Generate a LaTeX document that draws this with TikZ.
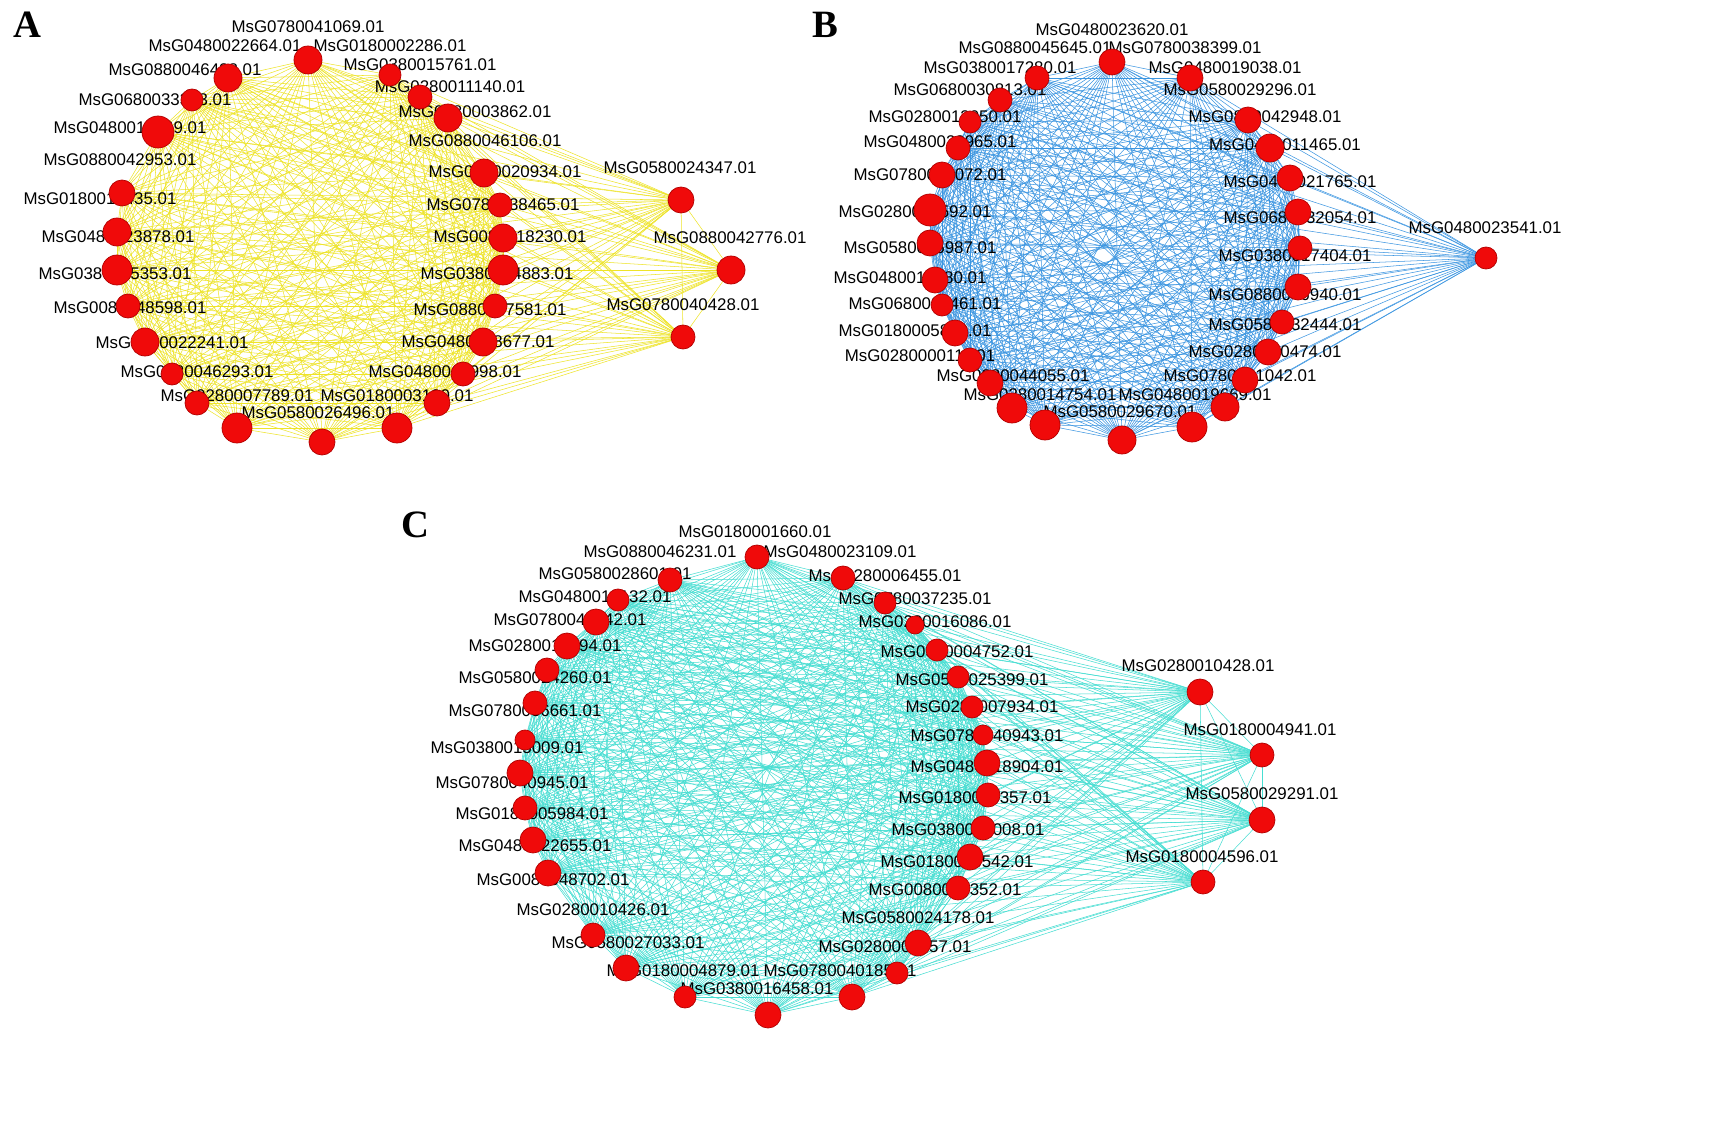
\documentclass[tikz,border=0pt]{standalone}
\usepackage{fontspec}
\setmainfont{Liberation Sans}
\newfontfamily\panelfont{Liberation Serif}
\definecolor{edgeA}{RGB}{238,228,40}
\definecolor{edgeB}{RGB}{60,150,225}
\definecolor{edgeC}{RGB}{70,222,210}
\definecolor{genered}{RGB}{240,10,10}
\tikzset{
  gene/.style={circle, draw=red!70!black, line width=0.2pt, fill=genered, inner sep=0pt},
  glabel/.style={font=\fontsize{4.8}{5}\selectfont, inner sep=0pt},
  panel/.style={font=\panelfont\bfseries\fontsize{11}{12}\selectfont}
}
% node lists: x/y/r in pixels
\def\nodesA{308/60/14,228/78/14,390/75/11,420/97/12,192/100/11,448/118/14,158/132/16,484/173/14,122/193/13,500/205/12,117/232/14,503/238/14,117/270/15,503/270/15,128/306/12,495/306/12,145/342/14,483/342/14,172/374/11,463/374/12,197/403/12,437/403/13,237/428/15,397/428/15,322/442/13,681/200/13,731/270/14,683/337/12}
\def\labelsA{308/27/MsG0780041069.01,225/46/MsG0480022664.01,390/46/MsG0180002286.01,420/65/MsG0380015761.01,185/70/MsG0880046428.01,450/87/MsG0280011140.01,155/100/MsG0680033363.01,475/112/MsG0380003862.01,130/128/MsG0480016669.01,485/141/MsG0880046106.01,120/160/MsG0880042953.01,505/172/MsG0480020934.01,100/199/MsG0180013435.01,503/205/MsG0780038465.01,118/237/MsG0480023878.01,510/237/MsG0080018230.01,115/274/MsG0380015353.01,497/274/MsG0380014883.01,130/308/MsG0080048598.01,490/310/MsG0880047581.01,172/343/MsG0480022241.01,478/342/MsG0480018677.01,197/372/MsG0880046293.01,445/372/MsG0480015998.01,237/396/MsG0280007789.01,397/396/MsG0180003180.01,318/413/MsG0580026496.01,680/168/MsG0580024347.01,730/238/MsG0880042776.01,683/305/MsG0780040428.01}
\def\nodesB{1112/62/13,1037/78/12,1190/78/13,1000/100/12,970/122/11,1248/120/13,958/148/12,1270/148/14,942/175/13,1290/178/13,930/210/16,1298/212/13,930/243/13,1300/248/12,935/280/13,1298/287/13,942/305/11,1282/322/12,955/333/13,1268/352/13,970/360/12,990/383/13,1245/380/13,1012/408/15,1045/425/15,1225/407/14,1192/427/15,1122/440/14,1486/258/11}
\def\labelsB{1112/30/MsG0480023620.01,1035/48/MsG0880045645.01,1185/48/MsG0780038399.01,1000/68/MsG0380017280.01,1225/68/MsG0480019038.01,970/90/MsG0680030813.01,1240/90/MsG0580029296.01,945/117/MsG0280013050.01,1265/117/MsG0880042948.01,940/142/MsG0480020965.01,1285/145/MsG0480011465.01,930/175/MsG0780041072.01,1300/182/MsG0480021765.01,915/212/MsG0280010592.01,1300/218/MsG0680032054.01,920/248/MsG0580025987.01,1485/228/MsG0480023541.01,1295/256/MsG0380017404.01,910/278/MsG0480018780.01,925/304/MsG0680032461.01,1285/295/MsG0880046940.01,915/331/MsG0180005819.01,1285/325/MsG0580032444.01,920/356/MsG0280000111.01,1265/352/MsG0280000474.01,1013/376/MsG0880044055.01,1240/376/MsG0780041042.01,1040/395/MsG0380014754.01,1195/395/MsG0480019669.01,1120/412/MsG0580029670.01}
\def\nodesC{757/557/12,670/580/12,843/578/12,618/600/11,885/603/11,596/622/13,915/625/9,567/646/13,937/650/11,547/670/12,958/677/11,535/703/12,972/707/11,525/740/10,983/735/10,520/773/13,987/763/13,525/808/12,988/795/12,533/840/13,983/828/12,548/873/13,970/857/13,593/935/12,958/888/12,626/968/13,918/943/13,685/997/11,897/973/11,768/1015/13,852/997/13,1200/692/13,1262/755/12,1262/820/13,1203/882/12}
\def\labelsC{755/532/MsG0180001660.01,660/552/MsG0880046231.01,840/552/MsG0480023109.01,615/574/MsG0580028601.01,885/576/MsG0280006455.01,595/597/MsG0480012132.01,915/599/MsG0780037235.01,570/620/MsG0780040942.01,935/622/MsG0280016086.01,545/646/MsG0280010094.01,957/652/MsG0380004752.01,1198/666/MsG0280010428.01,535/678/MsG0580024260.01,972/680/MsG0580025399.01,525/711/MsG0780036661.01,982/707/MsG0280007934.01,1260/730/MsG0180004941.01,507/748/MsG0380015009.01,987/736/MsG0780040943.01,512/783/MsG0780040945.01,987/767/MsG0480018904.01,1262/794/MsG0580029291.01,532/814/MsG0180005984.01,975/798/MsG0180005357.01,535/846/MsG0480022655.01,968/830/MsG0380015008.01,1202/857/MsG0180004596.01,553/880/MsG0080048702.01,957/862/MsG0180005542.01,593/910/MsG0280010426.01,945/890/MsG0080005352.01,918/918/MsG0580024178.01,628/943/MsG0580027033.01,895/947/MsG0280005557.01,683/971/MsG0180004879.01,840/971/MsG0780040185.01,757/989/MsG0380016458.01}

\begin{document}
\begin{tikzpicture}[x=0.01cm, y=-0.01cm]
  \fill[white] (0,0) rectangle (1713,1143);
  \useasboundingbox (0,0) rectangle (1713,1143);

  % positions
  \foreach \x/\y/\r [count=\k] in \nodesA {\coordinate (a\k) at (\x,\y);}
  \foreach \x/\y/\r [count=\k] in \nodesB {\coordinate (b\k) at (\x,\y);}
  \foreach \x/\y/\r [count=\k] in \nodesC {\coordinate (c\k) at (\x,\y);}

  % edges
  \foreach \i in {1,...,28}{
    \foreach \j in {\i,...,28}{
      \draw[edgeA, line width=0.15pt] (a\i) -- (a\j);
    }
  }
  \foreach \i in {1,...,29}{
    \foreach \j in {\i,...,29}{
      \draw[edgeB, line width=0.15pt] (b\i) -- (b\j);
    }
  }
  \foreach \i in {1,...,35}{
    \foreach \j in {\i,...,35}{
      \draw[edgeC, line width=0.15pt] (c\i) -- (c\j);
    }
  }

  % labels
  \foreach \x/\y/\t [count=\k] in \labelsA {\node[glabel] (la\k) at (\x,\y) {\t};}
  \foreach \x/\y/\t [count=\k] in \labelsB {\node[glabel] (lb\k) at (\x,\y) {\t};}
  \foreach \x/\y/\t [count=\k] in \labelsC {\node[glabel] (lc\k) at (\x,\y) {\t};}

  % genes
  \foreach \x/\y/\r [count=\k] in \nodesA {\node[gene, minimum size={\r*0.02cm}] (ga\k) at (a\k) {};}
  \foreach \x/\y/\r [count=\k] in \nodesB {\node[gene, minimum size={\r*0.02cm}] (gb\k) at (b\k) {};}
  \foreach \x/\y/\r [count=\k] in \nodesC {\node[gene, minimum size={\r*0.02cm}] (gc\k) at (c\k) {};}

  \node[panel] (pA) at (27,25) {A};
  \node[panel] (pB) at (825,25) {B};
  \node[panel] (pC) at (415,525) {C};
\end{tikzpicture}
\end{document}
